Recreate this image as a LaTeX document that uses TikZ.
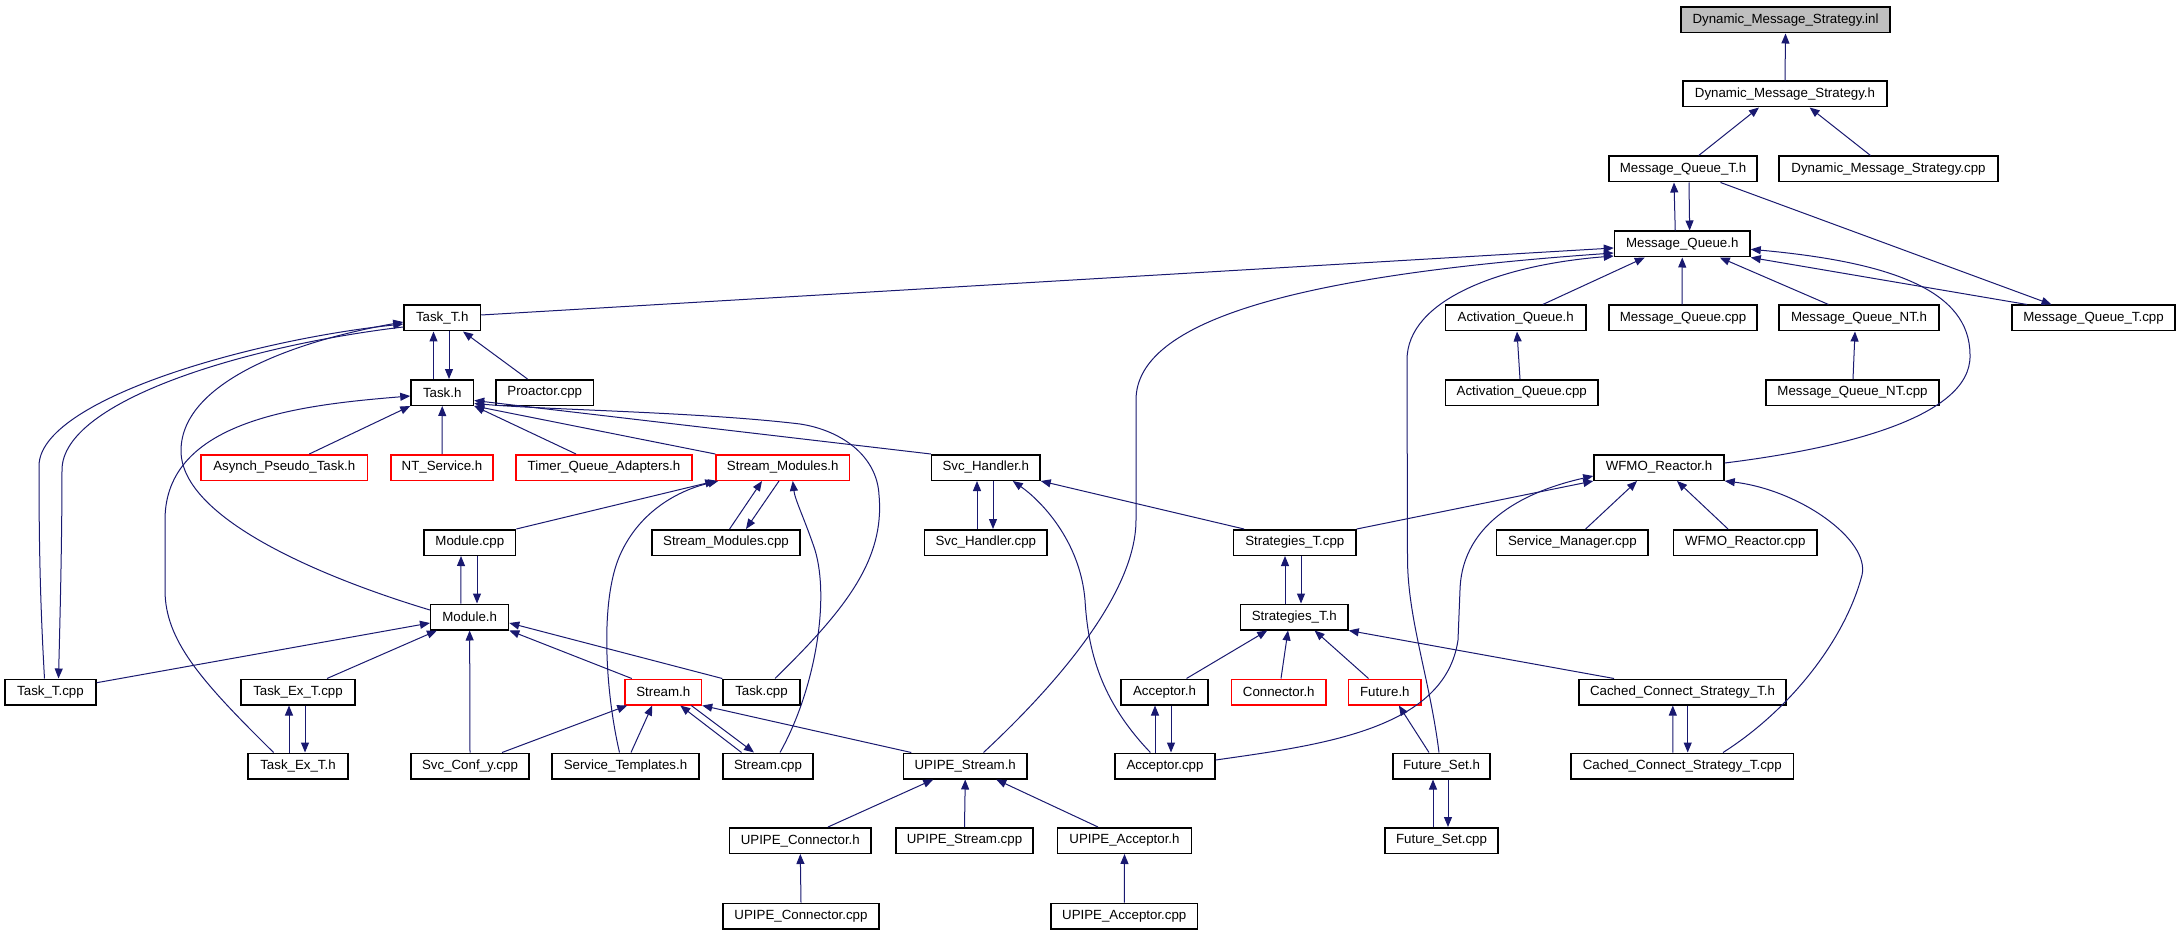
\documentclass[tikz,border=0pt]{standalone}
\usepackage{fontspec}
\setmainfont{Liberation Sans}
\usetikzlibrary{arrows.meta}
\definecolor{edgeblue}{RGB}{25,25,112}
\definecolor{nodegray}{RGB}{191,191,191}
\newcommand{\nfont}{\fontsize{13.3}{15}\selectfont}
\begin{document}
\begin{tikzpicture}[x=1pt,y=-1pt,
  box/.style={draw=black,line width=1.5pt,minimum height=25.5pt,inner sep=0pt,font=\nfont,fill=white},
  redbox/.style={box,draw=red},
  edge/.style={draw=edgeblue,line width=1pt,-{Triangle[length=10pt,width=8pt]}}]
\path[fill=white,use as bounding box] (0,0) rectangle (2177,933);
% nodes
\node[box,fill=nodegray,minimum width=209pt] (inl) at (1785.5,20) {Dynamic\_Message\_Strategy.inl};
\node[box,minimum width=204pt] (dmsh) at (1785,94) {Dynamic\_Message\_Strategy.h};
\node[box,minimum width=148pt] (mqth) at (1683,169) {Message\_Queue\_T.h};
\node[box,minimum width=219pt] (dmscpp) at (1888.5,169) {Dynamic\_Message\_Strategy.cpp};
\node[box,minimum width=135.5pt] (mqh) at (1682.25,244) {Message\_Queue.h};
\node[box,minimum width=76.5pt] (tasktH) at (442.25,318) {Task\_T.h};
\node[box,minimum width=140.5pt] (aqh) at (1515.75,318) {Activation\_Queue.h};
\node[box,minimum width=148pt] (mqcpp) at (1683,318) {Message\_Queue.cpp};
\node[box,minimum width=160pt] (mqnth) at (1859,318) {Message\_Queue\_NT.h};
\node[box,minimum width=163pt] (mqtcpp) at (2093.5,318) {Message\_Queue\_T.cpp};
\node[box,minimum width=62.5pt] (taskh) at (442.25,392.5) {Task.h};
\node[box,minimum width=97.5pt] (proactor) at (544.75,392.5) {Proactor.cpp};
\node[box,minimum width=152.5pt] (aqcpp) at (1521.75,392.5) {Activation\_Queue.cpp};
\node[box,minimum width=173pt] (mqntcpp) at (1852.5,392.5) {Message\_Queue\_NT.cpp};
\node[redbox,minimum width=166.6pt] (asynch) at (284.3,467.5) {Asynch\_Pseudo\_Task.h};
\node[redbox,minimum width=102pt] (ntservice) at (442,467.5) {NT\_Service.h};
\node[redbox,minimum width=176pt] (tqa) at (604,467.5) {Timer\_Queue\_Adapters.h};
\node[redbox,minimum width=133.5pt] (smh) at (782.75,467.5) {Stream\_Modules.h};
\node[box,minimum width=108.4pt] (svch) at (985.8,467.5) {Svc\_Handler.h};
\node[box,minimum width=130pt] (wfmoh) at (1659,467.5) {WFMO\_Reactor.h};
\node[box,minimum width=91.6pt] (modcpp) at (469.8,542.5) {Module.cpp};
\node[box,minimum width=148pt] (smcpp) at (726,542.5) {Stream\_Modules.cpp};
\node[box,minimum width=122.4pt] (svccpp) at (985.8,542.5) {Svc\_Handler.cpp};
\node[box,minimum width=122.4pt] (strtcpp) at (1294.8,542.5) {Strategies\_T.cpp};
\node[box,minimum width=151.3pt] (smgr) at (1572.35,542.5) {Service\_Manager.cpp};
\node[box,minimum width=143.5pt] (wfmocpp) at (1745.25,542.5) {WFMO\_Reactor.cpp};
\node[box,minimum width=77.9pt] (modh) at (469.65,617) {Module.h};
\node[box,minimum width=107.4pt] (strth) at (1294.3,617) {Strategies\_T.h};
\node[box,minimum width=91pt] (tasktcpp) at (50.5,692) {Task\_T.cpp};
\node[box,minimum width=114pt] (taskextcpp) at (298,692) {Task\_Ex\_T.cpp};
\node[redbox,minimum width=76.5pt] (streamh) at (663.25,692) {Stream.h};
\node[box,minimum width=77pt] (taskcpp) at (761.5,692) {Task.cpp};
\node[box,minimum width=87pt] (acch) at (1164.5,692) {Acceptor.h};
\node[redbox,minimum width=94.5pt] (connh) at (1278.75,692) {Connector.h};
\node[redbox,minimum width=72.3pt] (futh) at (1384.85,692) {Future.h};
\node[box,minimum width=207pt] (ccsth) at (1682.5,692) {Cached\_Connect\_Strategy\_T.h};
\node[box,minimum width=100pt] (taskexth) at (298,766) {Task\_Ex\_T.h};
\node[box,minimum width=118pt] (svcconf) at (470,766) {Svc\_Conf\_y.cpp};
\node[box,minimum width=147pt] (svctempl) at (625.5,766) {Service\_Templates.h};
\node[box,minimum width=90pt] (streamcpp) at (768,766) {Stream.cpp};
\node[box,minimum width=123.5pt] (upipesh) at (965.25,766) {UPIPE\_Stream.h};
\node[box,minimum width=100pt] (acccpp) at (1165,766) {Acceptor.cpp};
\node[box,minimum width=97pt] (fsh) at (1441.5,766) {Future\_Set.h};
\node[box,minimum width=222.5pt] (ccstcpp) at (1682.25,766) {Cached\_Connect\_Strategy\_T.cpp};
\node[box,minimum width=141.4pt] (upipech) at (800.3,840.5) {UPIPE\_Connector.h};
\node[box,minimum width=137pt] (upipescpp) at (964.5,840.5) {UPIPE\_Stream.cpp};
\node[box,minimum width=134pt] (upipeah) at (1124.5,840.5) {UPIPE\_Acceptor.h};
\node[box,minimum width=113pt] (fscpp) at (1441.5,840.5) {Future\_Set.cpp};
\node[box,minimum width=156pt] (upipeccpp) at (801,916) {UPIPE\_Connector.cpp};
\node[box,minimum width=146.5pt] (upipeacpp) at (1124.25,916) {UPIPE\_Acceptor.cpp};
% edges
\draw[edge] (dmsh.north) -- (inl.south);
\draw[edge] ([xshift=15.7pt]mqth.north) -- ([xshift=-26pt]dmsh.south);
\draw[edge] ([xshift=-18pt]dmscpp.north) -- ([xshift=24.6pt]dmsh.south);
\draw[edge] ([xshift=-7pt]mqh.north) -- ([xshift=-9pt]mqth.south);
\draw[edge] ([xshift=6pt]mqth.south) -- ([xshift=7.4pt]mqh.north);
\draw[edge] ([xshift=37.5pt]mqth.south) -- ([xshift=-42pt]mqtcpp.north);
\draw[edge] ([xshift=-66.5pt]mqtcpp.north) -- (mqh.south east);
\draw[edge] ([xshift=27pt]aqh.north) -- ([xshift=-37.5pt]mqh.south);
\draw[edge] ([xshift=-1pt]mqcpp.north) -- (mqh.south);
\draw[edge] ([xshift=-30.5pt]mqnth.north) -- ([xshift=37.5pt]mqh.south);
\draw[edge] ([xshift=-1.75pt]aqcpp.north) -- ([xshift=1.25pt]aqh.south);
\draw[edge] ([xshift=0.5pt]mqntcpp.north) -- ([xshift=-4pt]mqnth.south);
\draw[edge] ([yshift=4.5pt]wfmoh.east) .. controls (1830,450) and (1972,420) .. (1970,355) .. controls (1970,290) and (1890,262) .. ([yshift=-5.3pt]mqh.east);
\draw[edge] ([yshift=3pt]tasktH.east) -- ([yshift=-4pt]mqh.west);
\draw[edge] ([xshift=18.25pt]upipesh.north) .. controls (1040,700) and (1136,600) .. (1136,520) -- (1136,400) .. controls (1136,320) and (1300,275) .. ([yshift=-9pt]mqh.west);
\draw[edge] ([xshift=-2.5pt]fsh.north) .. controls (1430,680) and (1408,620) .. (1407.5,560) -- (1407,360) .. controls (1407,300) and (1500,265) .. ([yshift=1.5pt]mqh.south west);
\draw[edge] ([xshift=-8.75pt]taskh.north) -- ([xshift=-8.75pt]tasktH.south);
\draw[edge] ([xshift=6.75pt]tasktH.south) -- ([xshift=6.75pt]taskh.north);
\draw[edge] ([xshift=-17.25pt]proactor.north) -- ([xshift=20.75pt]tasktH.south);
\draw[edge] ([xshift=-6pt]tasktcpp.north) .. controls (40,600) and (39,540) .. (39,466) .. controls (39,400) and (250,340) .. ([yshift=-6pt]tasktH.west);
\draw[edge] ([yshift=-9pt]tasktH.west) .. controls (250,345) and (62,400) .. (62,470) .. controls (62,540) and (60,620) .. ([xshift=8pt]tasktcpp.north);
\draw[edge] ([yshift=7pt]modh.west) .. controls (330,580) and (180,520) .. (181,450) .. controls (182,380) and (300,340) .. ([yshift=-4pt]tasktH.west);
\draw[edge] ([xshift=-24.4pt]taskexth.north) .. controls (200,680) and (165,640) .. (165,590) -- (165,520) .. controls (165,420) and (300,405) .. ([yshift=-3.5pt]taskh.west);
\draw[edge] ([xshift=25pt]asynch.north) -- (taskh.south west);
\draw[edge] (ntservice.north) -- (taskh.south);
\draw[edge] ([xshift=-28pt]tqa.north) -- (taskh.south east);
\draw[edge] (smh.north west) -- (taskh.south east);
\draw[edge] (svch.north west) -- ([yshift=-8pt]taskh.east);
\draw[edge] ([xshift=13.5pt]taskcpp.north) .. controls (845,610) and (885,560) .. (879,495) .. controls (877,455) and (840,430) .. (800,424) .. controls (700,412) and (550,410) .. ([yshift=-11pt]taskh.east);
\draw[edge] (modcpp.north east) -- (smh.south west);
\draw[edge] ([xshift=-6pt]svctempl.north) .. controls (605,690) and (600,600) .. (620,555) .. controls (640,510) and (680,490) .. ([xshift=3pt]smh.south west);
\draw[edge] ([xshift=3.6pt]smcpp.north) -- ([xshift=-20.75pt]smh.south);
\draw[edge] ([xshift=-3.75pt]smh.south) -- ([xshift=20pt]smcpp.north);
\draw[edge] ([xshift=12pt]streamcpp.north) .. controls (815,690) and (830,600) .. (815,550) .. controls (805,520) and (795,500) .. ([xshift=10pt]smh.south);
\draw[edge] ([xshift=-8.8pt]svccpp.north) -- ([xshift=-8.8pt]svch.south);
\draw[edge] ([xshift=7.2pt]svch.south) -- ([xshift=7.2pt]svccpp.north);
\draw[edge] ([xshift=-50.8pt]strtcpp.north) -- (svch.south east);
\draw[edge] ([xshift=-14.6pt]acccpp.north) .. controls (1100,700) and (1088,650) .. (1085,600) .. controls (1080,540) and (1040,500) .. ([xshift=27pt]svch.south);
\draw[edge] ([xshift=-8.7pt]modh.north) -- ([xshift=-8.8pt]modcpp.south);
\draw[edge] ([xshift=7.2pt]modcpp.south) -- ([xshift=7.35pt]modh.north);
\draw[edge] ([yshift=9.3pt]tasktcpp.east) -- ([yshift=-6pt]modh.west);
\draw[edge] ([xshift=29pt]taskextcpp.north) -- ([xshift=7pt]modh.south west);
\draw[edge] (svcconf.north) -- (modh.south);
\draw[edge] ([xshift=-31.5pt]streamh.north) -- (modh.south east);
\draw[edge] (taskcpp.north west) -- ([yshift=-6pt]modh.east);
\draw[edge] ([xshift=-9pt]taskexth.north) -- ([xshift=-9pt]taskextcpp.south);
\draw[edge] ([xshift=7pt]taskextcpp.south) -- ([xshift=7pt]taskexth.north);
\draw[edge] ([xshift=32pt]svcconf.north) -- ([xshift=3pt]streamh.south west);
\draw[edge] ([xshift=5.5pt]svctempl.north) -- ([xshift=-11pt]streamh.south);
\draw[edge] ([xshift=-26.5pt]streamcpp.north) -- ([xshift=17pt]streamh.south);
\draw[edge] ([xshift=28pt]streamh.south) -- ([xshift=-14pt]streamcpp.north);
\draw[edge] ([xshift=8.5pt]upipesh.north west) -- (streamh.south east);
\draw[edge] ([xshift=27.7pt]upipech.north) -- ([xshift=-32pt]upipesh.south);
\draw[edge] (upipescpp.north) -- (upipesh.south);
\draw[edge] ([xshift=-26.5pt]upipeah.north) -- ([xshift=31pt]upipesh.south);
\draw[edge] (upipeccpp.north) -- (upipech.south);
\draw[edge] (upipeacpp.north) -- (upipeah.south);
\draw[edge] (strtcpp.north east) -- (wfmoh.south west);
\draw[edge] ([yshift=6pt]acccpp.east) .. controls (1320,745) and (1445,730) .. (1458,640) -- (1460,590) .. controls (1462,520) and (1530,490) .. ([yshift=-8.5pt]wfmoh.west);
\draw[edge] ([xshift=13.25pt]smgr.north) -- ([xshift=-22pt]wfmoh.south);
\draw[edge] ([xshift=-17.25pt]wfmocpp.north) -- ([xshift=18pt]wfmoh.south);
\draw[edge] ([xshift=40.75pt]ccstcpp.north) .. controls (1790,710) and (1845,640) .. (1862,575) .. controls (1870,540) and (1800,490) .. (wfmoh.south east);
\draw[edge] ([xshift=-9.3pt]strth.north) -- ([xshift=-9.8pt]strtcpp.south);
\draw[edge] ([xshift=6.2pt]strtcpp.south) -- ([xshift=6.7pt]strth.north);
\draw[edge] ([xshift=22pt]acch.north) -- ([xshift=-27pt]strth.south);
\draw[edge] ([xshift=2.25pt]connh.north) -- ([xshift=-6.3pt]strth.south);
\draw[edge] ([xshift=-16.35pt]futh.north) -- ([xshift=20.3pt]strth.south);
\draw[edge] ([xshift=-68.5pt]ccsth.north) -- (strth.south east);
\draw[edge] ([xshift=-10pt]acccpp.north) -- ([xshift=-9.5pt]acch.south);
\draw[edge] ([xshift=6.5pt]acch.south) -- ([xshift=6pt]acccpp.north);
\draw[edge] ([xshift=-12.5pt]fsh.north) -- ([xshift=14pt]futh.south);
\draw[edge] ([xshift=-8.5pt]fscpp.north) -- ([xshift=-8.5pt]fsh.south);
\draw[edge] ([xshift=6.5pt]fsh.south) -- ([xshift=6.5pt]fscpp.north);
\draw[edge] ([xshift=-9.5pt]ccstcpp.north) -- ([xshift=-9.7pt]ccsth.south);
\draw[edge] ([xshift=5.2pt]ccsth.south) -- ([xshift=5.45pt]ccstcpp.north);
\end{tikzpicture}
\end{document}
